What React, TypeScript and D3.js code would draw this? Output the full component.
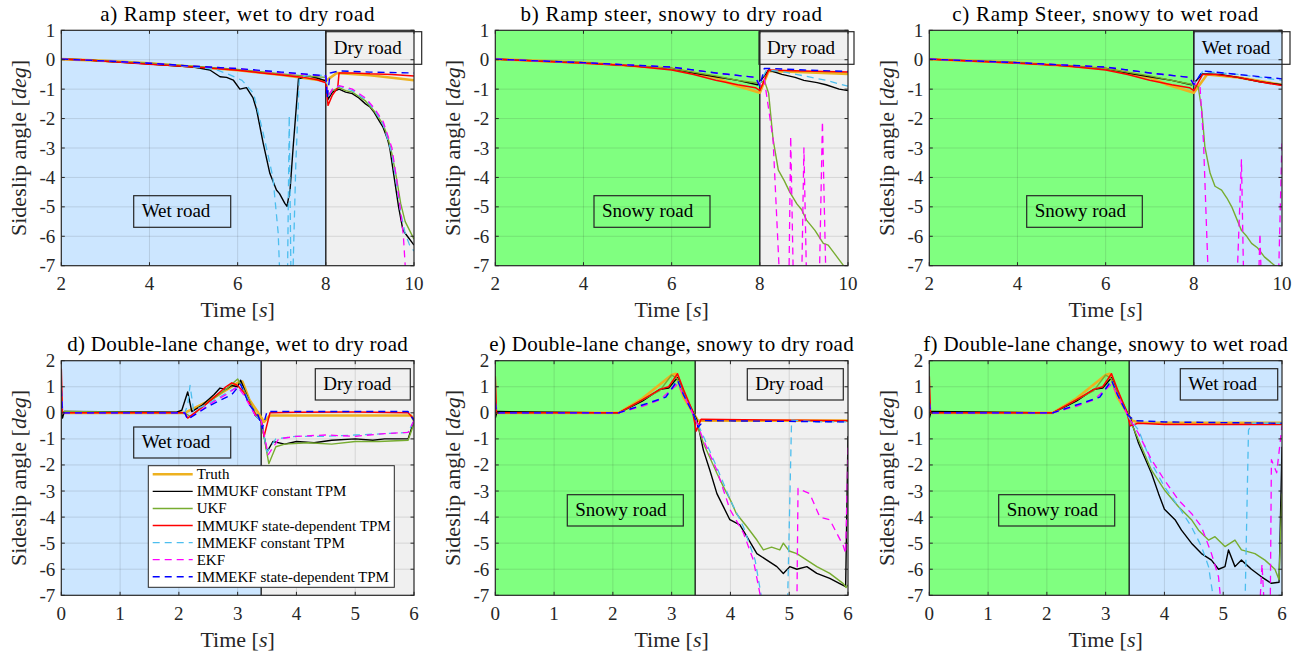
import React from 'react';
import * as d3 from 'd3';

type Pt = [number, number];

// ---------- series meta ----------
const seriesNames = [
  'Truth',
  'IMMUKF constant TPM',
  'UKF',
  'IMMUKF state-dependent TPM',
  'IMMEKF constant TPM',
  'EKF',
  'IMMEKF state-dependent TPM',
];

// ---------- tick labels ----------
const xTicksTop = [2, 4, 6, 8, 10];
const xTicksBottom = [0, 1, 2, 3, 4, 5, 6];
const yTicksTop = [1, 0, -1, -2, -3, -4, -5, -6, -7];
const yTicksBottom = [2, 1, 0, -1, -2, -3, -4, -5, -6, -7];

const panelTitles = [
  'a) Ramp steer, wet to dry road',
  'b) Ramp steer, snowy to dry road',
  'c) Ramp Steer, snowy to wet road',
  'd) Double-lane change, wet to dry road',
  'e) Double-lane change, snowy to dry road',
  'f) Double-lane change, snowy to wet road',
];

const switchTimes = [8, 8, 8, 3.4, 3.4, 3.4];
const roadBefore = ['Wet road', 'Snowy road', 'Snowy road', 'Wet road', 'Snowy road', 'Snowy road'];
const roadAfter = ['Dry road', 'Dry road', 'Wet road', 'Dry road', 'Dry road', 'Wet road'];

// ---------- data: a) ramp steer, wet to dry ----------
const aTruth: Pt[] = [[2,0.02],[3,-0.04],[4,-0.12],[5,-0.24],[6,-0.36],[7,-0.52],[7.5,-0.62],[8,-0.72],[8.25,-0.45],[9,-0.53],[10,-0.7]];
const aImmukfConst: Pt[] = [[2,0.02],[2.5,0],[3,-0.05],[3.5,-0.1],[4,-0.15],[4.5,-0.2],[5,-0.25],[5.37,-0.35],[5.6,-0.58],[5.75,-0.6],[5.9,-0.69],[6.05,-1.0],[6.2,-0.95],[6.35,-1.3],[6.43,-1.7],[6.58,-2.84],[6.73,-3.86],[6.88,-4.43],[6.95,-4.55],[7.07,-4.88],[7.12,-4.98],[7.19,-4.4],[7.26,-2.95],[7.38,-0.65],[7.6,-0.55],[7.8,-0.62],[8,-0.72],[8.05,-1.35],[8.15,-1.1],[8.3,-1.0],[8.45,-1.1],[8.6,-1.15],[8.75,-1.3],[8.9,-1.5],[9.0,-1.6],[9.1,-1.8],[9.2,-2.05],[9.3,-2.3],[9.4,-2.7],[9.45,-3.0],[9.55,-4.0],[9.65,-5.0],[9.75,-5.8],[9.85,-6.0],[9.95,-6.2],[10,-6.3]];
const aUkf: Pt[] = [[2,0.02],[3,-0.04],[4,-0.12],[5,-0.22],[6,-0.33],[7,-0.48],[7.5,-0.55],[8,-0.6],[8.05,-1.2],[8.15,-1.05],[8.3,-0.95],[8.45,-1.05],[8.6,-1.1],[8.75,-1.25],[8.9,-1.4],[9.1,-1.75],[9.3,-2.2],[9.4,-2.6],[9.5,-3.2],[9.6,-4.0],[9.7,-4.9],[9.8,-5.5],[9.9,-5.8],[10,-6.1]];
const aImmukfSd: Pt[] = [[2,0.02],[2.5,0],[3,-0.05],[3.5,-0.1],[4,-0.15],[4.5,-0.2],[5,-0.25],[5.5,-0.3],[6,-0.36],[6.5,-0.44],[7,-0.52],[7.5,-0.6],[7.8,-0.68],[8,-0.78],[8.05,-1.55],[8.15,-1.2],[8.27,-0.95],[8.3,-0.45],[8.6,-0.45],[9,-0.48],[9.5,-0.5],[10,-0.55]];
const aImmekfConst: Pt[] = [[2,0.02],[3,-0.04],[4,-0.12],[5,-0.24],[5.5,-0.33],[5.8,-0.5],[6.1,-0.7],[6.36,-1.14],[6.58,-2.5],[6.8,-4.0],[6.92,-5.9],[6.96,-7.5],[7.13,-7.5],[7.17,-1.9],[7.21,-7.5],[7.25,-7.5],[7.32,-3.5],[7.4,-0.6],[7.7,-0.5],[8,-0.55],[8.05,-1.3],[8.15,-1.0],[8.3,-0.9],[8.6,-1.05],[8.9,-1.35],[9.1,-1.7],[9.3,-2.2],[9.5,-3.2],[9.6,-4.2],[9.7,-5.2],[9.8,-5.9],[9.9,-6.3],[10,-6.5]];
const aEkf: Pt[] = [[2,0.02],[3,-0.04],[4,-0.12],[5,-0.22],[6,-0.3],[7,-0.45],[7.5,-0.5],[8,-0.55],[8.05,-1.25],[8.15,-1.0],[8.3,-0.88],[8.6,-1.0],[8.9,-1.3],[9.1,-1.65],[9.3,-2.1],[9.5,-3.0],[9.6,-4.0],[9.7,-5.2],[9.76,-6.0],[9.82,-7.5],[10,-7.5]];
const aImmekfSd: Pt[] = [[2,0.02],[3,-0.04],[4,-0.12],[5,-0.22],[6,-0.3],[7,-0.42],[7.5,-0.48],[8,-0.55],[8.03,-1.3],[8.1,-0.45],[8.3,-0.38],[9,-0.42],[10,-0.45]];

// ---------- data: b) ramp steer, snowy to dry ----------
const bTruth: Pt[] = [[2,0.02],[4,-0.1],[6,-0.3],[7,-0.6],[7.4,-0.85],[8,-1.12],[8.2,-0.38],[9,-0.42],[10,-0.48]];
const bImmukfConst: Pt[] = [[2,0.02],[3,-0.04],[4,-0.1],[5,-0.2],[6,-0.3],[6.5,-0.45],[7,-0.58],[7.5,-0.7],[7.95,-0.85],[8.0,-0.75],[8.2,-0.35],[8.5,-0.5],[8.8,-0.6],[9,-0.7],[9.3,-0.78],[9.5,-0.85],[9.8,-1.0],[10,-1.05]];
const bUkf: Pt[] = [[2,0.02],[4,-0.1],[6,-0.3],[7,-0.55],[7.5,-0.7],[8,-0.8],[8.1,-0.7],[8.2,-1.14],[8.3,-2.7],[8.42,-3.75],[8.55,-4.1],[8.68,-4.5],[8.84,-4.9],[8.95,-5.1],[9.06,-5.45],[9.25,-5.8],[9.44,-6.24],[9.55,-6.3],[9.7,-6.6],[9.9,-7.0],[10,-7.1]];
const bImmukfSd: Pt[] = [[2,0.02],[3,-0.05],[4,-0.12],[5,-0.2],[6,-0.35],[6.5,-0.5],[7,-0.7],[7.5,-0.85],[7.9,-0.95],[8,-1.05],[8.2,-0.35],[9,-0.38],[10,-0.42]];
const bImmekfConst: Pt[] = [[2,0.02],[4,-0.1],[6,-0.25],[7,-0.45],[7.9,-0.6],[8,-0.8],[8.15,-0.35],[8.5,-0.4],[9,-0.55],[9.5,-0.7],[10,-0.9]];
const bEkf: Pt[] = [[2,0.02],[4,-0.1],[6,-0.25],[7,-0.45],[7.9,-0.6],[8,-0.85],[8.1,-0.65],[8.3,-2.7],[8.45,-7.5],[8.66,-7.5],[8.7,-2.6],[8.76,-7.5],[8.95,-7.5],[9.0,-3.0],[9.06,-7.5],[9.35,-7.5],[9.42,-2.1],[9.5,-7.5],[10,-7.5]];
const bImmekfSd: Pt[] = [[2,0.02],[4,-0.1],[6,-0.25],[7,-0.45],[7.9,-0.6],[8,-0.9],[8.1,-0.3],[8.3,-0.3],[9,-0.35],[10,-0.4]];

// ---------- data: c) ramp steer, snowy to wet ----------
const cTruth: Pt[] = [[2,0.02],[4,-0.1],[6,-0.3],[7,-0.6],[7.4,-0.85],[8,-1.12],[8.3,-0.5],[9,-0.6],[10,-0.85]];
const cImmukfConst: Pt[] = [[2,0.02],[3,-0.04],[4,-0.1],[5,-0.2],[6,-0.3],[6.5,-0.45],[7,-0.58],[7.5,-0.7],[7.95,-0.85],[8.0,-0.8],[8.2,-0.48],[8.6,-0.5],[9,-0.6],[9.5,-0.75],[10,-0.85]];
const cUkf: Pt[] = [[2,0.02],[4,-0.1],[6,-0.3],[7,-0.55],[7.5,-0.7],[8,-0.85],[8.1,-0.92],[8.18,-1.7],[8.25,-2.95],[8.37,-3.86],[8.48,-4.3],[8.63,-4.43],[8.75,-4.7],[8.86,-5.0],[9.08,-5.8],[9.2,-6.0],[9.31,-6.24],[9.45,-6.4],[9.6,-6.7],[9.84,-7.0],[10,-7.1]];
const cImmukfSd: Pt[] = [[2,0.02],[3,-0.05],[4,-0.12],[5,-0.2],[6,-0.35],[6.5,-0.5],[7,-0.7],[7.5,-0.85],[7.9,-0.95],[8,-1.05],[8.2,-0.5],[8.5,-0.5],[9,-0.6],[9.5,-0.75],[10,-0.88]];
const cImmekfConst: Pt[] = [[2,0.02],[4,-0.1],[6,-0.25],[7,-0.45],[7.9,-0.6],[8,-0.8],[8.2,-0.4],[9,-0.5],[10,-0.7]];
const cEkf: Pt[] = [[2,0.02],[4,-0.1],[6,-0.25],[7,-0.45],[7.9,-0.6],[8,-0.8],[8.14,-0.9],[8.22,-2.8],[8.33,-7.5],[8.98,-7.5],[9.08,-3.4],[9.13,-7.5],[9.47,-7.5],[9.5,-5.9],[9.53,-7.5],[9.92,-7.5],[10,-2.7]];
const cImmekfSd: Pt[] = [[2,0.02],[4,-0.1],[6,-0.25],[7,-0.45],[7.9,-0.6],[8,-0.85],[8.2,-0.38],[9,-0.5],[10,-0.65]];

// ---------- data: d) double-lane change, wet to dry ----------
const dTruth: Pt[] = [[0,0],[2.1,0],[2.5,0.45],[3.0,1.15],[3.08,1.2],[3.2,0.5],[3.35,0.0],[3.45,-0.35],[3.55,-0.1],[5.95,-0.1],[6,-0.3]];
const dImmukfConst: Pt[] = [[0,0.0],[0.02,-0.2],[0.05,0.05],[1.95,0.02],[2.05,0.1],[2.15,0.8],[2.22,0.05],[2.4,0.3],[2.6,0.7],[2.7,0.95],[2.8,0.9],[2.9,1.05],[3.0,1.0],[3.05,1.25],[3.15,0.7],[3.3,-0.1],[3.4,-0.3],[3.5,-1.5],[3.6,-1.1],[3.8,-1.2],[4.0,-1.1],[4.3,-1.15],[4.6,-1.05],[5.0,-1.0],[5.3,-1.05],[5.5,-1.0],[5.9,-1.0],[6,-0.3]];
const dUkf: Pt[] = [[0,0],[0.05,0.05],[2.1,0.0],[2.2,-0.15],[2.5,0.4],[2.8,0.9],[3.0,1.3],[3.1,0.9],[3.3,0.0],[3.4,-0.3],[3.53,-1.95],[3.65,-1.3],[3.8,-1.2],[4.2,-1.15],[4.6,-1.2],[5.0,-1.1],[5.4,-1.1],[5.9,-1.05],[6,-0.4]];
const dImmukfSd: Pt[] = [[0,1.7],[0.02,0.0],[2.1,0],[2.15,-0.2],[2.5,0.4],[2.8,1.0],[2.9,1.15],[3.0,1.05],[3.1,0.8],[3.3,-0.05],[3.4,-0.3],[3.45,-0.9],[3.55,0.0],[4,0.02],[5,0.03],[5.9,0.0],[6,-0.25]];
const dImmekfConst: Pt[] = [[0,0.9],[0.02,0.0],[2.1,0],[2.15,0.3],[2.19,1.05],[2.25,0.1],[2.5,0.35],[2.8,0.75],[3.0,1.0],[3.05,1.1],[3.3,-0.1],[3.4,-0.3],[3.5,-1.5],[3.65,-1.0],[4,-0.9],[4.5,-0.9],[5,-0.85],[5.5,-0.8],[5.9,-0.75],[6,-0.3]];
const dEkf: Pt[] = [[0,0.9],[0.02,0],[2.1,0],[2.15,-0.25],[2.5,0.3],[2.8,0.7],[3.0,1.0],[3.1,0.7],[3.3,-0.1],[3.4,-0.3],[3.52,-1.6],[3.7,-1.0],[4,-0.9],[4.5,-0.85],[5,-0.9],[5.5,-0.8],[5.9,-0.75],[6,-0.3]];
const dImmekfSd: Pt[] = [[0,0.9],[0.02,0],[2.1,0],[2.15,-0.25],[2.5,0.25],[2.9,0.7],[3.05,1.1],[3.2,0.3],[3.35,-0.1],[3.42,-0.6],[3.5,0.05],[4,0.05],[5,0.05],[5.9,0.05],[6,-0.3]];

// ---------- data: e) double-lane change, snowy to dry ----------
const eTruth: Pt[] = [[0,0],[2.1,0],[2.5,0.55],[3.0,1.45],[3.07,1.5],[3.2,0.6],[3.35,0.05],[3.45,-0.3],[3.6,-0.3],[6,-0.3]];
const eImmukfConst: Pt[] = [[0,-0.2],[0.03,0.05],[2.1,0],[2.5,0.45],[2.8,0.9],[2.95,0.95],[3.1,1.35],[3.2,0.8],[3.43,-0.28],[3.54,-1.43],[3.65,-2.2],[3.77,-3.1],[3.88,-3.6],[3.99,-4.1],[4.16,-4.3],[4.28,-4.75],[4.45,-5.4],[4.62,-5.65],[4.79,-5.9],[4.9,-6.16],[5.01,-5.9],[5.13,-6.0],[5.3,-5.9],[5.47,-6.16],[5.69,-6.35],[5.86,-6.55],[5.96,-6.67],[6,-0.9]];
const eUkf: Pt[] = [[0,0],[2.1,0],[2.5,0.5],[2.8,0.85],[3.0,1.45],[3.1,1.3],[3.2,0.8],[3.4,-0.2],[3.54,-1.17],[3.77,-2.32],[3.88,-2.83],[4.0,-3.35],[4.1,-3.86],[4.28,-4.37],[4.45,-4.88],[4.56,-5.26],[4.7,-5.15],[4.84,-5.26],[4.9,-5.0],[5.0,-5.3],[5.13,-5.4],[5.3,-5.65],[5.47,-5.9],[5.69,-6.16],[5.92,-6.55],[5.97,-6.7],[6,-6.6]];
const eImmukfSd: Pt[] = [[0,1.4],[0.02,0],[2.1,0],[2.5,0.5],[2.8,0.9],[2.95,1.0],[3.1,1.5],[3.2,0.9],[3.35,0.1],[3.42,-0.7],[3.5,-0.25],[6,-0.3]];
const eImmekfConst: Pt[] = [[0,0.4],[0.02,0],[2.1,0],[2.5,0.3],[2.9,0.6],[3.1,1.25],[3.2,0.7],[3.4,-0.2],[3.54,-0.9],[3.77,-2.1],[4.0,-3.35],[4.22,-4.37],[4.42,-5.65],[4.56,-7.5],[4.97,-7.5],[5.04,-0.28],[5.5,-0.35],[6,-0.35]];
const eEkf: Pt[] = [[0,0.4],[0.02,0],[2.1,0],[2.5,0.25],[2.8,0.5],[3.1,1.1],[3.2,0.7],[3.4,-0.2],[3.54,-1.04],[3.77,-2.2],[3.99,-3.7],[4.22,-4.6],[4.39,-5.65],[4.55,-7.5],[5.13,-7.5],[5.15,-2.9],[5.35,-3.1],[5.52,-4.0],[5.69,-4.1],[5.92,-5.1],[5.96,-5.4],[6,-1.3]];
const eImmekfSd: Pt[] = [[0,0.4],[0.02,0],[2.1,0],[2.5,0.3],[2.9,0.6],[3.1,1.25],[3.2,0.7],[3.38,-0.1],[3.45,-0.55],[3.55,-0.3],[6,-0.35]];

// ---------- data: f) double-lane change, snowy to wet ----------
const fTruth: Pt[] = [[0,0],[2.1,0],[2.5,0.55],[3.0,1.45],[3.07,1.5],[3.2,0.6],[3.35,0.05],[3.45,-0.3],[3.6,-0.38],[6,-0.38]];
const fImmukfConst: Pt[] = [[0,-0.2],[0.03,0.05],[2.1,0],[2.5,0.45],[2.8,0.9],[2.95,0.95],[3.1,1.35],[3.2,0.8],[3.43,-0.28],[3.56,-1.17],[3.78,-2.32],[3.9,-3.1],[4.0,-3.7],[4.18,-4.1],[4.29,-4.5],[4.46,-5.0],[4.63,-5.4],[4.8,-5.65],[4.92,-6.0],[5.03,-5.9],[5.09,-5.26],[5.2,-5.9],[5.31,-5.65],[5.48,-6.0],[5.65,-6.29],[5.82,-6.54],[5.95,-6.5],[6,-1.3]];
const fUkf: Pt[] = [[0,0],[2.1,0],[2.5,0.5],[2.8,0.85],[3.0,1.45],[3.1,1.3],[3.2,0.8],[3.4,-0.2],[3.56,-1.04],[3.78,-2.2],[4.0,-2.96],[4.24,-3.6],[4.46,-4.1],[4.58,-4.5],[4.75,-4.88],[4.86,-4.75],[5.03,-5.13],[5.2,-4.88],[5.31,-5.26],[5.54,-5.4],[5.71,-5.65],[5.88,-6.0],[5.95,-6.4],[6,-3.1]];
const fImmukfSd: Pt[] = [[0,1.4],[0.02,0],[2.1,0],[2.5,0.5],[2.8,0.9],[2.95,1.0],[3.1,1.5],[3.2,0.9],[3.35,0.1],[3.42,-0.5],[3.55,-0.4],[4,-0.45],[5,-0.45],[6,-0.45]];
const fImmekfConst: Pt[] = [[0,0.4],[0.02,0],[2.1,0],[2.5,0.3],[2.9,0.6],[3.1,1.25],[3.2,0.7],[3.4,-0.2],[3.56,-0.66],[3.78,-1.94],[4.0,-2.83],[4.24,-3.6],[4.46,-4.37],[4.63,-5.13],[4.75,-5.9],[4.86,-7.5],[5.37,-7.5],[5.43,-0.66],[5.5,-0.4],[6,-0.4]];
const fEkf: Pt[] = [[0,0.4],[0.02,0],[2.1,0],[2.5,0.25],[2.8,0.5],[3.1,1.1],[3.2,0.7],[3.4,-0.2],[3.56,-0.8],[3.78,-1.8],[4.0,-2.58],[4.24,-3.35],[4.46,-3.86],[4.63,-4.37],[4.8,-5.4],[4.92,-6.29],[4.97,-7.5],[5.62,-7.5],[5.66,-5.8],[5.7,-7.5],[5.8,-7.5],[5.82,-1.8],[5.91,-2.3],[6,-0.5]];
const fImmekfSd: Pt[] = [[0,0.4],[0.02,0],[2.1,0],[2.5,0.3],[2.9,0.6],[3.1,1.25],[3.2,0.7],[3.38,-0.1],[3.5,-0.3],[4,-0.35],[6,-0.4]];

const panelSeries: Pt[][][] = [
  [aTruth, aImmukfConst, aUkf, aImmukfSd, aImmekfConst, aEkf, aImmekfSd],
  [bTruth, bImmukfConst, bUkf, bImmukfSd, bImmekfConst, bEkf, bImmekfSd],
  [cTruth, cImmukfConst, cUkf, cImmukfSd, cImmekfConst, cEkf, cImmekfSd],
  [dTruth, dImmukfConst, dUkf, dImmukfSd, dImmekfConst, dEkf, dImmekfSd],
  [eTruth, eImmukfConst, eUkf, eImmukfSd, eImmekfConst, eEkf, eImmekfSd],
  [fTruth, fImmukfConst, fUkf, fImmukfSd, fImmekfConst, fEkf, fImmekfSd],
];

// ---------- styles & layout ----------
const seriesColors = ['#EDB120', '#000000', '#77AC30', '#FF0000', '#4DBEEE', '#FF00FF', '#0000FF'];
const seriesWidths = [2.6, 1.4, 1.4, 1.5, 1.3, 1.3, 1.4];
const seriesDash = [null, null, null, null, '7,5', '7,5', '7,5'];
const roadColor: Record<string, string> = {
  'Wet road': '#CCE6FF',
  'Snowy road': '#80FF80',
  'Dry road': '#F0F0F0',
};

const colX: [number, number][] = [[61.3, 414], [495.3, 848], [929.3, 1282]];
const rowY: [number, number][] = [[30.3, 265.7], [360.7, 595.3]];
// annotation boxes [x0, y0, x1, y1] in pixels: before-road, after-road
const boxBefore: number[][] = [
  [133.7, 195.7, 230.7, 227.3],
  [594, 195.7, 710, 227.3],
  [1026.7, 195.7, 1142.3, 227.3],
  [133.7, 427, 230.7, 458],
  [567.3, 494.7, 683.3, 526],
  [998.7, 494.7, 1114.7, 526],
];
const boxAfter: number[][] = [
  [325.7, 31.7, 421.7, 64.3],
  [759, 31.7, 854, 64.3],
  [1193.7, 31.7, 1290, 64.3],
  [315.3, 368.7, 410.3, 400],
  [747.3, 368.7, 843.3, 400],
  [1180.3, 368.7, 1277.7, 400],
];

const FONT = "'Liberation Serif', 'Times New Roman', serif";

function Panel({ idx }: { idx: number }) {
  const row = idx < 3 ? 0 : 1;
  const col = idx % 3;
  const [left, right] = colX[col];
  const [top, bottom] = rowY[row];
  const xTicks = row === 0 ? xTicksTop : xTicksBottom;
  const yTicks = row === 0 ? yTicksTop : yTicksBottom;
  const x = d3.scaleLinear().domain([xTicks[0], xTicks[xTicks.length - 1]]).range([left, right]);
  const y = d3.scaleLinear().domain([yTicks[yTicks.length - 1], yTicks[0]]).range([bottom, top]);
  const line = d3.line<Pt>().x(d => x(d[0])).y(d => y(d[1]));
  const sw = switchTimes[idx];
  const clipId = `clip-${idx}`;
  const cx = (left + right) / 2;
  const titleY = row === 0 ? 20.5 : 351;
  const tickLabelY = row === 0 ? 290 : 620;
  const xLabelY = row === 0 ? 316.5 : 646.5;
  const yLabelX = left - 35;
  const cy = (top + bottom) / 2;
  const bb = boxBefore[idx];
  const ba = boxAfter[idx];
  return (
    <g>
      <defs>
        <clipPath id={clipId}>
          <rect x={left} y={top} width={right - left} height={bottom - top} />
        </clipPath>
      </defs>
      {/* road regions */}
      <rect x={x(xTicks[0])} y={top} width={x(sw) - x(xTicks[0])} height={bottom - top} fill={roadColor[roadBefore[idx]]} />
      <rect x={x(sw)} y={top} width={x(xTicks[xTicks.length - 1]) - x(sw)} height={bottom - top} fill={roadColor[roadAfter[idx]]} />
      {/* grid */}
      <g stroke="#262626" strokeOpacity={0.13} strokeWidth={1}>
        {xTicks.slice(1, -1).map(t => (
          <line key={'gx' + t} x1={x(t)} x2={x(t)} y1={top} y2={bottom} />
        ))}
        {yTicks.slice(1, -1).map(t => (
          <line key={'gy' + t} x1={left} x2={right} y1={y(t)} y2={y(t)} />
        ))}
      </g>
      {/* switch line */}
      <line x1={x(sw)} x2={x(sw)} y1={top} y2={bottom} stroke="#000" strokeWidth={1.2} />
      {/* series */}
      <g clipPath={`url(#${clipId})`}>
        {panelSeries[idx].map((s, i) => (
          <path
            key={i}
            d={line(s) || ''}
            fill="none"
            stroke={seriesColors[i]}
            strokeWidth={seriesWidths[i]}
            strokeDasharray={seriesDash[i] || undefined}
            strokeLinejoin="round"
          />
        ))}
      </g>
      {/* axes box */}
      <rect x={left} y={top} width={right - left} height={bottom - top} fill="none" stroke="#262626" strokeWidth={1.2} />
      {/* ticks */}
      <g stroke="#262626" strokeWidth={1}>
        {xTicks.map(t => (
          <g key={'tx' + t}>
            <line x1={x(t)} x2={x(t)} y1={bottom} y2={bottom - 3.5} />
            <line x1={x(t)} x2={x(t)} y1={top} y2={top + 3.5} />
          </g>
        ))}
        {yTicks.map(t => (
          <g key={'ty' + t}>
            <line x1={left} x2={left + 3.5} y1={y(t)} y2={y(t)} />
            <line x1={right} x2={right - 3.5} y1={y(t)} y2={y(t)} />
          </g>
        ))}
      </g>
      {/* tick labels */}
      <g fontFamily={FONT} fontSize={19} fill="#262626">
        {xTicks.map(t => (
          <text key={'lx' + t} x={x(t)} y={tickLabelY} textAnchor="middle">{String(t)}</text>
        ))}
        {yTicks.map(t => (
          <text key={'ly' + t} x={left - 6} y={y(t)} textAnchor="end" dominantBaseline="central">{String(t)}</text>
        ))}
      </g>
      {/* title */}
      <text x={cx} y={titleY} textAnchor="middle" fontFamily={FONT} fontSize={21} letterSpacing={row === 0 ? 0.7 : 0.3} fill="#000">
        {panelTitles[idx]}
      </text>
      {/* axis labels */}
      <text x={cx} y={xLabelY} textAnchor="middle" fontFamily={FONT} fontSize={22} fill="#262626">
        Time [<tspan fontStyle="italic">s</tspan>]
      </text>
      <text
        transform={`translate(${yLabelX},${cy}) rotate(-90)`}
        textAnchor="middle"
        fontFamily={FONT}
        fontSize={22}
        fill="#262626"
      >
        Sideslip angle [<tspan fontStyle="italic">deg</tspan>]
      </text>
      {/* road annotation boxes */}
      {[{ b: bb, label: roadBefore[idx] }, { b: ba, label: roadAfter[idx] }].map((o, k) => (
        <g key={'box' + k}>
          <rect x={o.b[0]} y={o.b[1]} width={o.b[2] - o.b[0]} height={o.b[3] - o.b[1]} fill="none" stroke="#262626" strokeWidth={1.2} />
          <text x={o.b[0] + 8} y={(o.b[1] + o.b[3]) / 2 + 5.5} fontFamily={FONT} fontSize={19} fill="#000">
            {o.label}
          </text>
        </g>
      ))}
    </g>
  );
}

function Legend() {
  const x0 = 148.3, y0 = 465.7, x1 = 394.3, y1 = 587.3;
  const rowH = 17.07;
  const firstY = 474.3;
  return (
    <g>
      <rect x={x0} y={y0} width={x1 - x0} height={y1 - y0} fill="#fff" stroke="#262626" strokeWidth={1} />
      {seriesNames.map((n, i) => {
        const yy = firstY + i * rowH;
        return (
          <g key={n}>
            <line x1={152.7} x2={192.7} y1={yy} y2={yy} stroke={seriesColors[i]} strokeWidth={seriesWidths[i]} strokeDasharray={seriesDash[i] || undefined} />
            <text x={196.7} y={yy} dominantBaseline="central" fontFamily={FONT} fontSize={15} fill="#000">{n}</text>
          </g>
        );
      })}
    </g>
  );
}

export default function App() {
  return (
    <svg
      width={1311}
      height={659}
      viewBox="0 0 1311 659"
      style={{ position: 'absolute', left: 0, top: 0, background: '#fff' }}
    >
      <rect x={0} y={0} width={1311} height={659} fill="#fff" />
      {[0, 1, 2, 3, 4, 5].map(i => (
        <Panel key={i} idx={i} />
      ))}
      <Legend />
    </svg>
  );
}
